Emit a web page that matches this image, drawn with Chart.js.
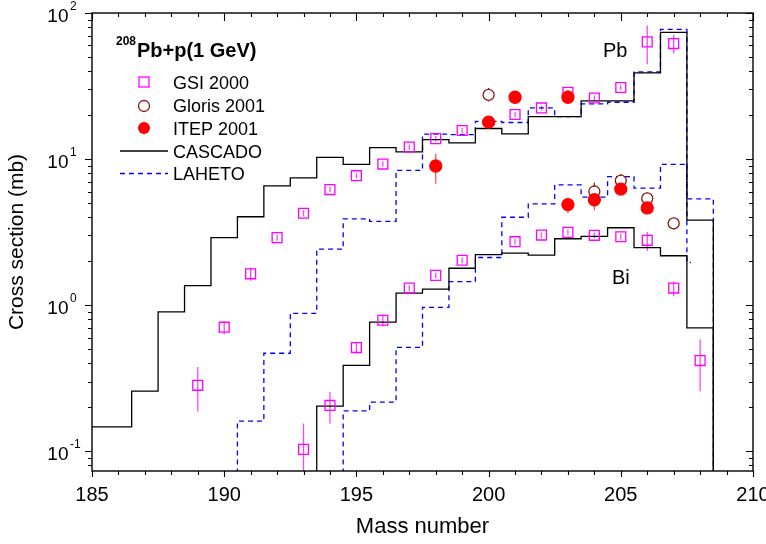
<!DOCTYPE html>
<html><head><meta charset="utf-8">
<script src="https://cdn.jsdelivr.net/npm/chart.js@4"></script>
<style>html,body{margin:0;padding:0;background:#fff;}#wrap{width:766px;height:544px;}</style>
</head><body><div id="wrap"><canvas id="c" width="766" height="544"></canvas></div>
<script>
// ---- axis ranges / ticks ----
const xMin = 185, xMax = 210;
const yMin = 0.0733, yMax = 100;
const xTickLabels = [185, 190, 195, 200, 205, 210];
const yTickExps = [-1, 0, 1, 2];

// ---- model histograms (bin = mass number, value in mb) ----
const casPbBins = [185,186,187,188,189,190,191,192,193,194,195,196,197,198,199,200,201,202,203,204,205,206,207,208];
const casPbVals = [0.147,0.147,0.258,0.90,1.36,2.90,4.03,6.56,7.43,10.26,9.2,12.0,11.2,13.6,12.9,16.2,14.9,19.5,19.5,25.0,25.0,38.9,73.8,3.82];
const lahPbBins = [191,192,193,194,195,196,197,198,199,200,201,202,203,204,205,206,207,208];
const lahPbVals = [0.161,0.469,0.88,2.42,3.90,3.75,8.38,14.8,14.7,18.1,17.8,22.4,19.5,23.9,24.5,39.5,77.3,5.35];
const casBiBins = [194,195,196,197,198,199,200,201,202,203,204,205,206,207,208];
const casBiVals = [0.204,0.387,0.765,1.21,1.29,1.79,2.22,2.27,2.20,2.85,2.96,3.39,2.48,2.18,0.70];
const lahBiBins = [195,196,197,198,199,200,201,202,203,204,205,206,207];
const lahBiVals = [0.189,0.217,0.515,0.966,1.45,2.12,4.0,4.93,6.66,5.50,7.59,6.33,9.20];
const lahBiTail = 1.96;

// ---- experimental data ----
const gsiPbA  = [189,190,191,192,193,194,195,196,197,198,199,201,202,203,204,205,206,207];
const gsiPbV  = [0.283,0.707,1.64,2.90,4.26,6.19,7.70,9.25,12.1,13.8,15.7,20.2,22.4,28.6,26.2,30.9,63.4,61.8];
const gsiPbLo = [0.187,0.631,1.47,2.76,4.06,5.95,7.40,8.85,11.6,13.2,15.1,19.4,21.5,27.4,25.1,29.6,44.5,52.9];
const gsiPbHi = [0.377,0.777,1.81,3.04,4.46,6.45,8.00,9.65,12.6,14.4,16.3,21.0,23.3,29.8,27.3,32.2,82.0,71.0];
const gsiBiA  = [193,194,195,196,197,198,199,201,202,203,204,205,206,207,208];
const gsiBiV  = [0.103,0.206,0.513,0.789,1.31,1.60,2.03,2.72,3.02,3.15,3.01,2.94,2.78,1.31,0.418];
const gsiBiLo = [0.03,0.155,0.464,0.711,1.25,1.53,1.94,2.60,2.89,3.01,2.88,2.81,2.35,1.15,0.258];
const gsiBiHi = [0.155,0.255,0.554,0.862,1.37,1.67,2.12,2.84,3.15,3.29,3.14,3.07,3.17,1.46,0.584];
const glorisA  = [200,204,205,206,207];
const glorisV  = [27.5,6.0,7.13,5.38,3.63];
const glorisLo = [24.8,5.3,6.4,4.8,3.30];
const glorisHi = [30.7,6.9,7.9,5.9,3.96];
const itepA  = [198,200,201,203,203,204,205,206];
const itepV  = [8.97,17.9,26.5,26.5,4.88,5.27,6.23,4.63];
const itepLo = [6.77,17.0,25.3,25.3,4.28,4.46,5.7,4.3];
const itepHi = [10.9,18.8,27.7,27.7,5.4,5.9,6.8,5.0];

// ---- builders ----
const FLOOR = 1e-3;
function stepPts(bins, vals, fromBottom, toBottom, tailVal) {
  const p = [];
  if (fromBottom) p.push({x: bins[0] - 0.5, y: FLOOR});
  bins.forEach((b, i) => {
    p.push({x: Math.max(b - 0.5, xMin), y: vals[i]});
    p.push({x: b + 0.5, y: vals[i]});
  });
  const last = bins[bins.length - 1] + 0.5;
  if (tailVal !== undefined) { p.push({x: last, y: tailVal}); p.push({x: last + 0.15, y: tailVal}); }
  if (toBottom) p.push({x: last, y: FLOOR});
  return p;
}
const pts = (a, v) => a.map((x, i) => ({x: x, y: v[i]}));

const C_GSI = '#ff00ff', C_GSI_E = '#ff44ff';
const C_GLO = '#8b1a1a';
const C_ITEP = '#ff0000', C_ITEP_E = '#ff5555';
const C_LAH = '#0000ff';

const lineDs = (label, data, color, dash) => ({
  label, data, showLine: true, borderColor: color, borderWidth: 1.3, borderDash: dash || [],
  pointRadius: 0, fill: false, tension: 0, order: 10
});
const ptDs = (label, data, style, r, stroke, fillC, lo, hi, ec) => ({
  label, data, showLine: false, pointStyle: style, pointRadius: r, pointHoverRadius: r,
  pointBorderColor: stroke, pointBackgroundColor: fillC, pointBorderWidth: 1.3,
  borderColor: stroke, backgroundColor: fillC, errLo: lo, errHi: hi, errColor: ec, order: 1
});

const datasets = [
  ptDs('ITEP 2001', pts(itepA, itepV), 'circle', 6, C_ITEP, C_ITEP, itepLo, itepHi, C_ITEP_E),
  ptDs('Gloris 2001', pts(glorisA, glorisV), 'circle', 5.5, C_GLO, '#ffffff', glorisLo, glorisHi, C_GLO),
  ptDs('GSI 2000', pts(gsiPbA, gsiPbV), 'rect', 7, C_GSI, 'rgba(0,0,0,0)', gsiPbLo, gsiPbHi, C_GSI_E),
  ptDs('GSI 2000 Bi', pts(gsiBiA, gsiBiV), 'rect', 7, C_GSI, 'rgba(0,0,0,0)', gsiBiLo, gsiBiHi, C_GSI_E),
  lineDs('CASCADO', stepPts(casPbBins, casPbVals, false, true), '#000000'),
  lineDs('CASCADO Bi', stepPts(casBiBins, casBiVals, true, true), '#000000'),
  lineDs('LAHETO', stepPts(lahPbBins, lahPbVals, true, true), C_LAH, [5, 4]),
  lineDs('LAHETO Bi', stepPts(lahBiBins, lahBiVals, true, false, lahBiTail), C_LAH, [5, 4])
];

const FONT = '"Liberation Sans", Arial, sans-serif';

const decor = {
  id: 'decor',
  beforeDatasetsDraw(chart) {
    const ctx = chart.ctx, a = chart.chartArea, xs = chart.scales.x, ys = chart.scales.y;
    ctx.save();
    ctx.beginPath(); ctx.rect(a.left, a.top, a.right - a.left, a.bottom - a.top); ctx.clip();
    chart.data.datasets.forEach(ds => {
      if (!ds.errLo) return;
      ctx.strokeStyle = ds.errColor; ctx.lineWidth = 1.3;
      ds.data.forEach((p, i) => {
        const x = xs.getPixelForValue(p.x);
        ctx.beginPath();
        ctx.moveTo(x, ys.getPixelForValue(ds.errLo[i]));
        ctx.lineTo(x, ys.getPixelForValue(ds.errHi[i]));
        ctx.stroke();
      });
    });
    ctx.restore();
  },
  afterDraw(chart) {
    const ctx = chart.ctx, a = chart.chartArea, xs = chart.scales.x, ys = chart.scales.y;
    ctx.save();
    // frame
    ctx.strokeStyle = '#000'; ctx.lineWidth = 1.4;
    ctx.strokeRect(a.left, a.top, a.right - a.left, a.bottom - a.top);
    ctx.lineWidth = 1.1;
    ctx.beginPath();
    for (let v = xMin; v <= xMax; v++) {
      const x = Math.round(xs.getPixelForValue(v)) + 0.5;
      const major = (v % 5 === 0);
      ctx.moveTo(x, a.bottom); ctx.lineTo(x, a.bottom + (major ? 6 : 4));
      ctx.moveTo(x, a.top); ctx.lineTo(x, a.top + (major ? 8 : 4));
    }
    for (let e = -2; e <= 2; e++) {
      for (let m = 1; m <= 9; m++) {
        const v = m * Math.pow(10, e);
        if (v < yMin || v > yMax * 1.0001) continue;
        const y = Math.round(ys.getPixelForValue(v)) + 0.5;
        const major = (m === 1);
        ctx.moveTo(a.left, y); ctx.lineTo(a.left - (major ? 7 : 4), y);
        ctx.moveTo(a.right, y); ctx.lineTo(a.right - (major ? 7 : 4), y);
      }
    }
    ctx.stroke();
    // y tick labels 10^n
    ctx.fillStyle = '#000';
    ctx.textBaseline = 'alphabetic';
    yTickExps.forEach(e => {
      const y = ys.getPixelForValue(Math.pow(10, e));
      ctx.font = '19px ' + FONT; ctx.textAlign = 'right';
      ctx.fillText('10', 68.5, y + 9);
      ctx.font = '12px ' + FONT; ctx.textAlign = 'left';
      ctx.fillText(String(e), 70, y - 3);
    });
    // legend
    ctx.textAlign = 'left';
    ctx.font = 'bold 12px ' + FONT;
    ctx.fillText('208', 116, 45);
    ctx.font = 'bold 20px ' + FONT;
    ctx.fillText('Pb+p(1 GeV)', 137, 57);
    ctx.font = '18px ' + FONT;
    const rows = [89.3, 112.3, 134.5, 157.5, 180];
    const names = ['GSI 2000', 'Gloris 2001', 'ITEP 2001', 'CASCADO', 'LAHETO'];
    names.forEach((n, i) => ctx.fillText(n, 173, rows[i]));
    ctx.lineWidth = 1.3;
    ctx.strokeStyle = C_GSI; ctx.strokeRect(139, 77, 10, 10);
    ctx.strokeStyle = C_GLO; ctx.beginPath(); ctx.arc(144, 106, 5.5, 0, Math.PI * 2); ctx.stroke();
    ctx.fillStyle = C_ITEP; ctx.beginPath(); ctx.arc(144, 128, 6, 0, Math.PI * 2); ctx.fill();
    ctx.strokeStyle = '#000'; ctx.beginPath(); ctx.moveTo(120, 151); ctx.lineTo(168, 151); ctx.stroke();
    ctx.strokeStyle = C_LAH; ctx.setLineDash([5, 4]); ctx.beginPath(); ctx.moveTo(120, 173.5); ctx.lineTo(168, 173.5); ctx.stroke();
    ctx.setLineDash([]);
    // series labels
    ctx.fillStyle = '#000'; ctx.font = '20px ' + FONT;
    ctx.fillText('Pb', 603, 57);
    ctx.fillText('Bi', 612, 284);
    ctx.restore();
  }
};

new Chart(document.getElementById('c'), {
  type: 'scatter',
  data: { datasets },
  options: {
    responsive: false, animation: false, devicePixelRatio: 1,
    layout: { padding: { top: 13, right: 13, left: 0, bottom: 0 }, autoPadding: false },
    plugins: { legend: { display: false }, tooltip: { enabled: false } },
    scales: {
      x: {
        type: 'linear', min: xMin, max: xMax,
        grid: { display: false, drawTicks: false }, border: { display: false },
        afterBuildTicks: s => { s.ticks = xTickLabels.map(v => ({value: v})); },
        ticks: { color: '#000', font: { size: 20, family: FONT }, padding: 12, maxRotation: 0, autoSkip: false },
        title: { display: true, text: 'Mass number', color: '#000', font: { size: 22, family: FONT }, padding: { top: 0, bottom: 4 } },
        afterFit: s => { s.height = 73; s.paddingLeft = 0; s.paddingRight = 0; }
      },
      y: {
        type: 'logarithmic', min: yMin, max: yMax,
        grid: { display: false, drawTicks: false }, border: { display: false },
        ticks: { display: false },
        title: { display: true, text: 'Cross section (mb)', color: '#000', font: { size: 21, family: FONT }, padding: { top: 5, bottom: 0 } },
        afterFit: s => { s.width = 92; s.paddingTop = 0; s.paddingBottom = 0; }
      }
    }
  },
  plugins: [decor]
});
</script>
</body></html>
